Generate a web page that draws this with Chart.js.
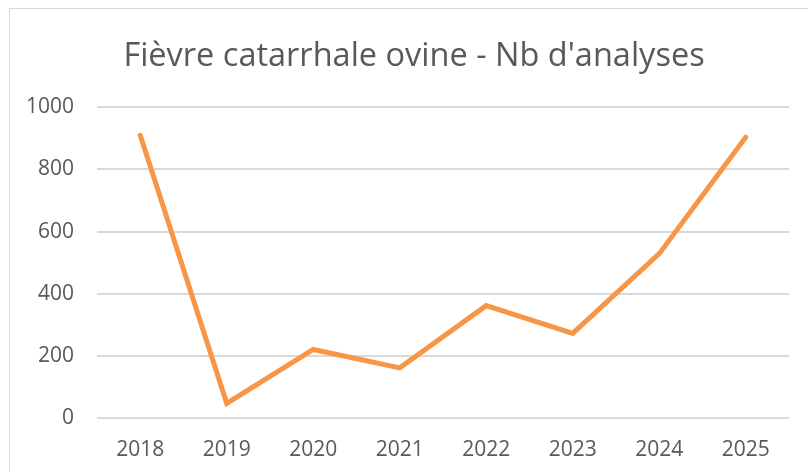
<!DOCTYPE html>
<html lang="fr">
<head>
<meta charset="utf-8">
<title>Fièvre catarrhale ovine - Nb d'analyses</title>
<script src="https://cdn.jsdelivr.net/npm/chart.js@4.4.1/dist/chart.umd.min.js"></script>
<style>
    html, body { margin: 0; padding: 0; background: #fff; overflow: hidden; }
    #frame {
        position: absolute; left: 9px; top: 8px;
        width: 830px; height: 480px;
        border: 1px solid #d9d9d9;
        background: #fff;
    }
    #wrap { position: absolute; left: 0; top: 0; width: 808px; height: 463px; }
</style>
</head>
<body>
<div id="frame">
    <div id="wrap"><canvas id="analysesChart"></canvas></div>
</div>
<script>
// --- Données ---
const annees = ['2018', '2019', '2020', '2021', '2022', '2023', '2024', '2025'];
const nbAnalyses = [909, 48, 221, 162, 362, 273, 529, 903];
const yTicks = [0, 200, 400, 600, 800, 1000];
const titre = "Fièvre catarrhale ovine - Nb d'analyses";

// --- Styles ---
const texteGris = '#595959';
const grilleGris = '#d9d9d9';
const orange = '#F79646';
const police = '"Open Sans", "Liberation Sans", sans-serif';

const ctx = document.getElementById('analysesChart').getContext('2d');
const chart = new Chart(ctx, {
    type: 'line',
    data: {
        labels: annees,
        datasets: [{
            label: 'Nb d\'analyses',
            data: nbAnalyses,
            borderColor: orange,
            backgroundColor: orange,
            borderWidth: 5,
            borderCapStyle: 'round',
            borderJoinStyle: 'miter',
            pointRadius: 0,
            pointHoverRadius: 0,
            tension: 0,
            fill: false
        }]
    },
    options: {
        responsive: true,
        maintainAspectRatio: false,
        animation: false,
        layout: { padding: 0 },
        plugins: {
            legend: { display: false },
            tooltip: { enabled: false },
            title: {
                display: true,
                text: titre,
                color: texteGris,
                font: { family: police, size: 32.5, weight: 'normal' },
                padding: { top: 28, bottom: 31 }
            }
        },
        scales: {
            x: {
                offset: true,
                border: { display: false },
                grid: { display: false, drawTicks: false },
                ticks: {
                    color: texteGris,
                    font: { family: police, size: 21 },
                    padding: 19,
                    maxRotation: 0
                },
                afterFit: (scale) => { scale.height = 53.7; }
            },
            y: {
                min: 0,
                max: 1000,
                border: { display: false },
                grid: { color: grilleGris, lineWidth: 2, drawTicks: false },
                afterBuildTicks: (scale) => { scale.ticks = yTicks.map(v => ({ value: v })); },
                ticks: {
                    color: texteGris,
                    font: { family: police, size: 21 },
                    padding: 23,
                    callback: (v) => String(v)
                },
                afterFit: (scale) => { scale.width = 87; }
            },
            // marge droite vide (le titre reste centré sur tout le cadre)
            marge: {
                position: 'right',
                min: 0,
                max: 1000,
                border: { display: false },
                grid: { display: false, drawTicks: false },
                ticks: { display: false },
                afterFit: (scale) => { scale.width = 29; }
            }
        }
    }
});
</script>
</body>
</html>
